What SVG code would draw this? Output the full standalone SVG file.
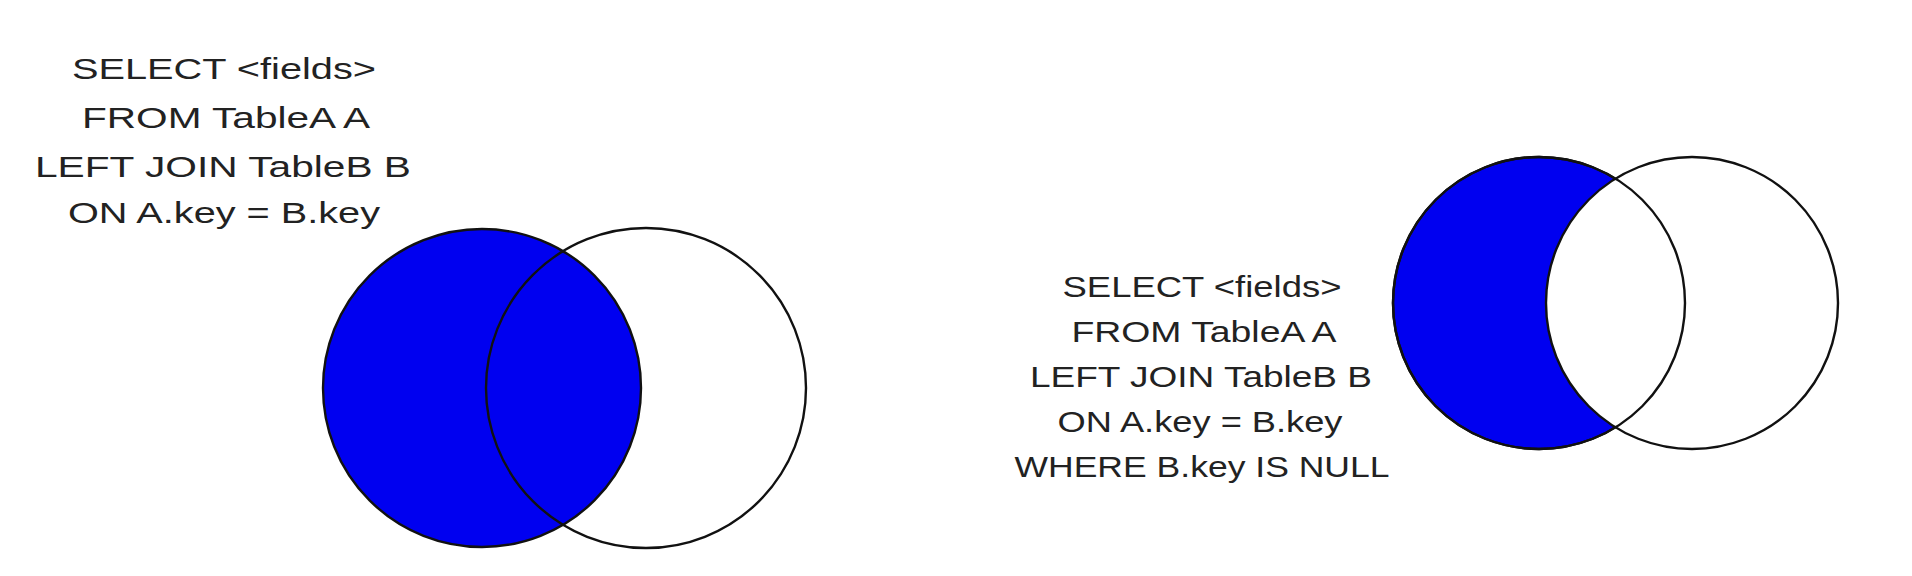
<svg xmlns="http://www.w3.org/2000/svg" width="1912" height="576" viewBox="0 0 1912 576">
<style>
.t{font-family:"Liberation Sans",Arial,sans-serif;font-size:30px;fill:#222;text-anchor:middle}
.o{stroke:#111;stroke-width:2.4}
.blue{fill:#0000f0}
</style>
<rect width="1912" height="576" fill="#fff"/>
<g id="left-query">
<text class="t" x="224" y="79" textLength="304" lengthAdjust="spacingAndGlyphs">SELECT &lt;fields&gt;</text>
<text class="t" x="226" y="128" textLength="288" lengthAdjust="spacingAndGlyphs">FROM TableA  A</text>
<text class="t" x="223" y="177" textLength="376" lengthAdjust="spacingAndGlyphs">LEFT JOIN TableB  B</text>
<text class="t" x="224" y="223" textLength="312" lengthAdjust="spacingAndGlyphs">ON A.key =  B.key</text>
</g>
<g id="left-venn">
<circle class="o blue" cx="482" cy="388" r="159"/>
<circle class="o" cx="646" cy="388" r="160" fill="none"/>
</g>
<g id="right-query">
<text class="t" x="1202" y="297" textLength="279" lengthAdjust="spacingAndGlyphs">SELECT &lt;fields&gt;</text>
<text class="t" x="1204" y="342" textLength="265" lengthAdjust="spacingAndGlyphs">FROM TableA  A</text>
<text class="t" x="1201" y="387" textLength="342" lengthAdjust="spacingAndGlyphs">LEFT JOIN TableB  B</text>
<text class="t" x="1200" y="432" textLength="285" lengthAdjust="spacingAndGlyphs">ON A.key = B.key</text>
<text class="t" x="1202" y="477" textLength="375" lengthAdjust="spacingAndGlyphs">WHERE B.key IS NULL</text>
</g>
<g id="right-venn">
<circle class="o blue" cx="1539" cy="303" r="146"/>
<circle class="o" cx="1692" cy="303" r="146" fill="#fff"/>
<circle class="o" cx="1539" cy="303" r="146" fill="none"/>
</g>
</svg>
